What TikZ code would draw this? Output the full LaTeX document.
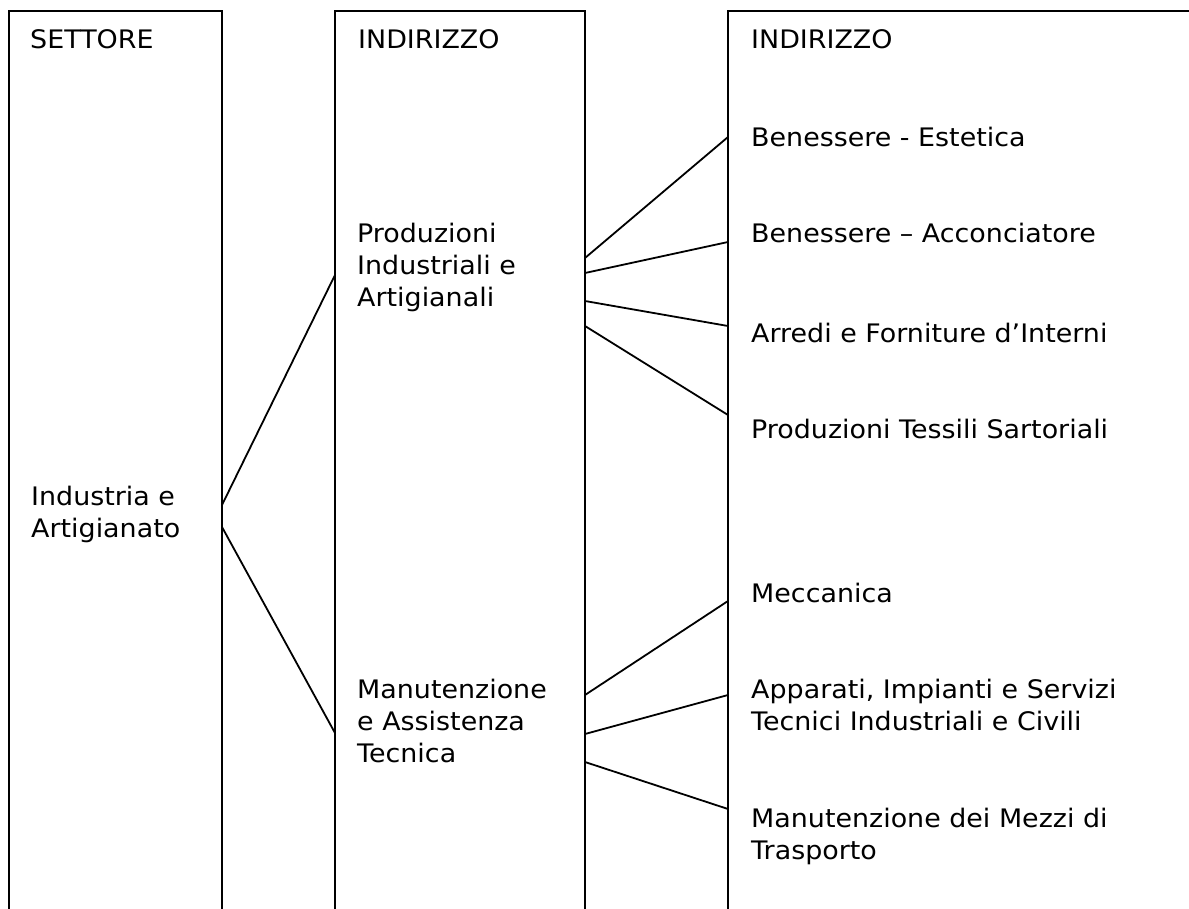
\documentclass[tikz,border=0pt]{standalone}
\usepackage{fontspec}
\setmainfont{DejaVu Sans}[FakeStretch=1.055]
\usetikzlibrary{positioning}

\tikzset{
  colbox/.style={draw, line width=1.8pt, rectangle, anchor=north west,
    minimum height=980pt, inner sep=0pt, outer sep=0pt},
  lbl/.style={anchor=base west, inner sep=0pt, align=left,
    font=\fontsize{25.5}{32}\selectfont},
  link/.style={line width=1.8pt}
}

\begin{document}
\begin{tikzpicture}[x=1pt, y=-1pt]
  \useasboundingbox (0,0) rectangle (1189,909);
  %% the three columns, open at the bottom
  \node[colbox, minimum width=213pt] (settore) at (9,11) {};
  \node[colbox, minimum width=250pt] (indA) at (335,11) {};
  \node[colbox, minimum width=520pt] (indB) at (728,11) {};

  %% headers
  \node[lbl] (hS) at (30,49) {SETTORE};
  \node[lbl] (hA) at (358,49) {INDIRIZZO};
  \node[lbl] (hB) at (751,49) {INDIRIZZO};

  %% first and second level (base = last line)
  \node[lbl] (ind) at (31,537) {Industria e\\Artigianato};
  \node[lbl] (prod) at (357,307) {Produzioni\\Industriali e\\Artigianali};
  \node[lbl] (manut) at (357,762) {Manutenzione\\e Assistenza\\Tecnica};

  %% third level
  \node[lbl] (est) at (751,147) {Benessere - Estetica};
  \node[lbl] (acc) at (751,243) {Benessere -- Acconciatore};
  \node[lbl] (arr) at (751,342) {Arredi e Forniture d’Interni};
  \node[lbl] (tes) at (751,438) {Produzioni Tessili Sartoriali};
  \node[lbl] (mec) at (751,602) {Meccanica};
  \node[lbl] (app) at (751,730) {Apparati, Impianti e Servizi\\Tecnici Industriali e Civili};
  \node[lbl] (mez) at (751,859) {Manutenzione dei Mezzi di\\Trasporto};

  %% links settore -> indirizzo
  \draw[link] (settore.east |- 0,505) -- (indA.west |- 0,275);
  \draw[link] (settore.east |- 0,527) -- (indA.west |- 0,733);
  %% links indirizzo -> indirizzo
  \draw[link] (indA.east |- 0,258) -- (indB.west |- 0,137);
  \draw[link] (indA.east |- 0,273) -- (indB.west |- 0,242);
  \draw[link] (indA.east |- 0,301) -- (indB.west |- 0,326);
  \draw[link] (indA.east |- 0,326) -- (indB.west |- 0,415);
  \draw[link] (indA.east |- 0,695) -- (indB.west |- 0,601);
  \draw[link] (indA.east |- 0,734) -- (indB.west |- 0,695);
  \draw[link] (indA.east |- 0,762) -- (indB.west |- 0,809);
\end{tikzpicture}
\end{document}
